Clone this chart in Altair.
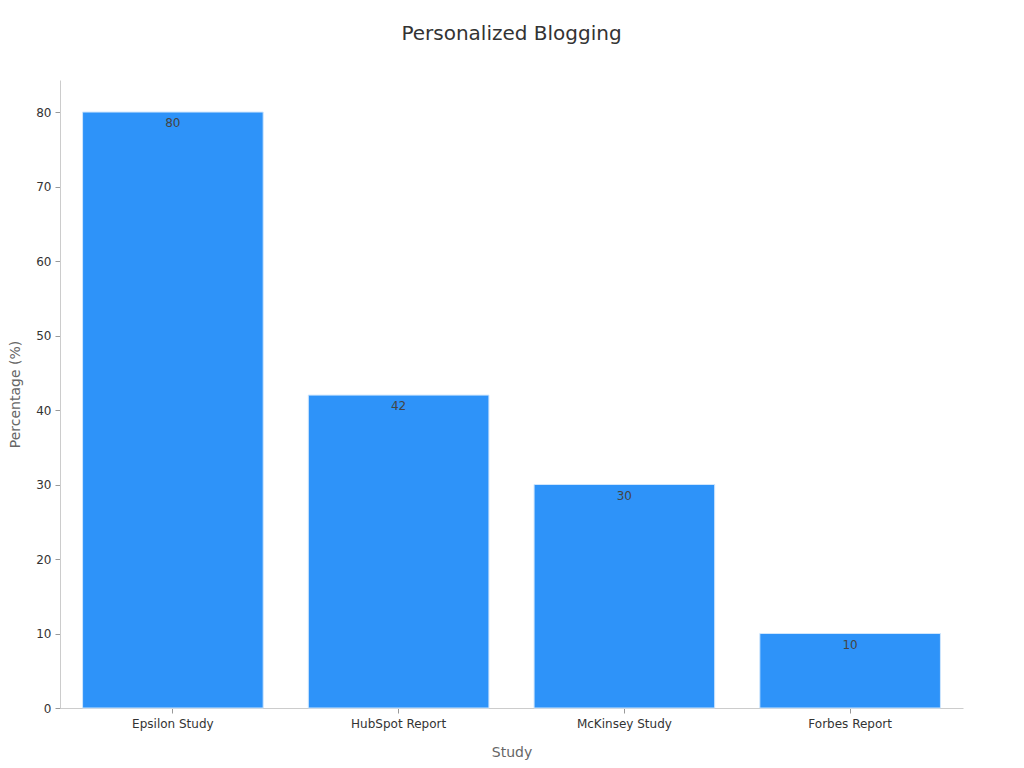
import altair as alt
import pandas as pd

studies = ["Epsilon Study", "HubSpot Report", "McKinsey Study", "Forbes Report"]
values = [80, 42, 30, 10]

df = pd.DataFrame({"Study": studies, "Percentage": values})

base = alt.Chart(df).encode(
    x=alt.X("Study:N", sort=studies, title="Study",
            scale=alt.Scale(paddingInner=0.2, paddingOuter=0.1),
            axis=alt.Axis(labelAngle=0, labelFontSize=12, labelColor="#333333",
                          titleFontSize=14, titleColor="#666666", titleFontWeight="normal",
                          titlePadding=16, domainColor="#cccccc", tickColor="#999999",
                          labelPadding=5)),
    y=alt.Y("Percentage:Q", title="Percentage (%)",
            scale=alt.Scale(domain=[0, 84.3], nice=False),
            axis=alt.Axis(values=list(range(0, 81, 10)), grid=False, labelFontSize=12,
                          labelColor="#333333", titleFontSize=14, titleColor="#666666",
                          titleFontWeight="normal", titlePadding=13,
                          domainColor="#cccccc", tickColor="#999999", labelPadding=4)),
)

bars = base.mark_bar(color="#2E93F9", stroke="#cfe6fd", strokeWidth=1)
labels = base.mark_text(baseline="top", dy=6, fontSize=12, color="#444444").encode(
    text="Percentage:Q")

chart = (bars + labels).properties(
    width=903, height=628,
    title=alt.TitleParams("Personalized Blogging", fontSize=20, fontWeight="normal",
                          color="#333333", offset=36),
    padding={"left": 0, "top": 16, "right": 45, "bottom": 5},
).configure(font="DejaVu Sans").configure_view(stroke="transparent", strokeWidth=0)

chart.save("out.html", embed_options={"renderer": "svg", "actions": False})
